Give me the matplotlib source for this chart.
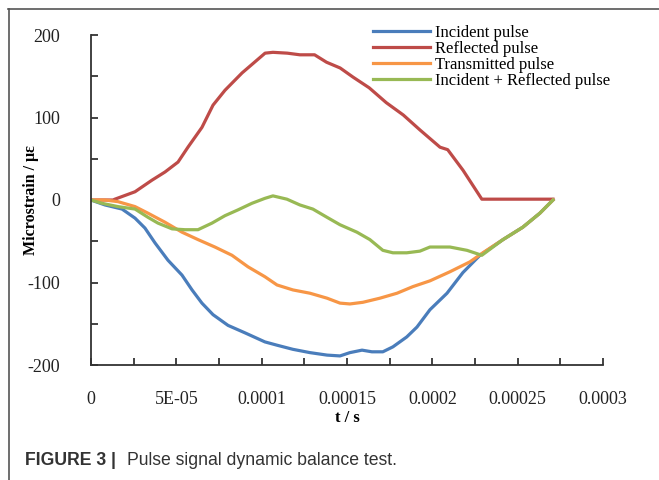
import numpy as np
import matplotlib
matplotlib.use('Agg')
import matplotlib.pyplot as plt
from matplotlib.lines import Line2D


# 시간축 (단위 1e-5 s)
t_inc = [0, 0.82, 1.82, 2.58, 3.16, 3.75, 4.51, 5.33, 5.92, 6.5, 7.15, 8.03, 9.02, 10.19,
         10.9, 11.83, 12.83, 13.83, 14.59, 15.17, 15.88, 16.46, 17.1, 17.69, 18.5, 19.1,
         19.86, 20.86, 21.79, 22.79, 24.14, 25.3, 26.3, 27.07]
incident = [0, -6, -11, -22, -34, -52, -73, -91, -109, -125, -139, -152, -161, -172,
            -176, -181, -185, -188, -189, -185, -182, -184, -184, -178, -166, -154,
            -133, -113, -88, -67, -48, -33, -16, 0]

t_ref = [0, 1.29, 1.4, 2.58, 3.57, 4.34, 5.1, 5.68, 6.5, 7.15, 7.85, 8.85, 10.2, 10.66,
         11.5, 12.24, 13.1, 13.8, 14.6, 15.35, 16.3, 17.3, 18.3, 19.27, 20.45, 20.9,
         21.8, 22.9, 27.07]
reflected = [0, 0, 1, 10, 24, 34, 46, 64, 88, 115, 133, 154, 178, 179,
             178, 176, 176, 167, 160, 149, 136, 118, 103, 85, 64, 61,
             36, 1, 1]

t_tra = [0, 0.82, 1.58, 2.58, 3.34, 4.34, 5.33, 6.27, 7.26, 8.26, 9.2, 10.19, 10.9, 11.83,
         12.83, 13.83, 14.59, 15.17, 15.93, 16.93, 17.93, 18.86, 19.86, 21.03, 22.2,
         22.96, 24.14, 25.3, 26.3, 27.07]
transmitted = [0, 0, -2, -8, -16, -27, -39, -48, -57, -67, -81, -93, -103, -109,
               -113, -119, -125, -126, -124, -119, -113, -105, -98, -87, -75,
               -64, -48, -33, -16, 0]

t_sum = [0, 0.64, 1.58, 2.58, 3.34, 3.92, 4.75, 5.5, 6.27, 7.09, 7.85, 8.61, 9.43, 10.19,
         10.66, 11.48, 12.24, 13.0, 13.83, 14.59, 15.58, 16.34, 17.1, 17.69, 18.5, 19.27,
         19.86, 21.03, 22.03, 22.9, 24.14, 25.3, 26.3, 27.07]
inc_plus_ref = [0, -4, -8, -11, -21, -28, -35, -36, -36, -28, -19, -12, -4, 2,
                5, 1, -6, -11, -21, -30, -39, -48, -61, -64, -64, -62,
                -57, -57, -61, -67, -48, -33, -16, 0]

x_ticks = [0, 2.5e-5, 5e-5, 7.5e-5, 1e-4, 1.25e-4, 1.5e-4, 1.75e-4, 2e-4, 2.25e-4,
           2.5e-4, 2.75e-4, 3e-4]
x_labels = ['0', '', '5E-05', '', '0.0001', '', '0.00015', '', '0.0002', '',
            '0.00025', '', '0.0003']
y_ticks = [-200, -150, -100, -50, 0, 50, 100, 150, 200]
y_labels = ['-200', '', '-100', '', '0', '', '100', '', '200']

serif = 'Liberation Serif'

fig = plt.figure(figsize=(6.59, 4.80), dpi=100)
ax = fig.add_axes([91/659, 1-365/480, 512/659, 330/480])

lw = 2.3
ax.plot(np.array(t_inc)*1e-5, incident, color='#4a7dbb', lw=lw, label='Incident pulse')
ax.plot(np.array(t_ref)*1e-5, reflected, color='#be4b48', lw=lw, label='Reflected pulse')
ax.plot(np.array(t_tra)*1e-5, transmitted, color='#f79646', lw=lw, label='Transmitted pulse')
ax.plot(np.array(t_sum)*1e-5, inc_plus_ref, color='#98b954', lw=lw, label='Incident + Reflected pulse')

ax.set_xlim(0, 3e-4)
ax.set_ylim(-200, 200)
ax.set_xticks(x_ticks)
ax.set_xticklabels(x_labels, fontfamily=serif, fontsize=13)
ax.set_yticks(y_ticks)
ax.set_yticklabels(y_labels, fontfamily=serif, fontsize=13)
ax.tick_params(axis='x', direction='in', length=5, width=1.2, pad=19, colors='#222')
ax.tick_params(axis='y', direction='in', length=5, width=1.2, pad=22, colors='#222')

for s in ['top', 'right']:
    ax.spines[s].set_visible(False)
for s in ['left', 'bottom']:
    ax.spines[s].set_linewidth(1.3)
    ax.spines[s].set_color('#333')

ax.set_xlabel('t / s', fontfamily=serif, fontweight='bold', fontsize=12, labelpad=1)
ax.set_ylabel('Microstrain / με', fontfamily=serif, fontweight='bold', fontsize=11.5)
ax.yaxis.set_label_coords((39-91)/512, 0.5)

leg = ax.legend(loc='upper left', bbox_to_anchor=(373/659, 1-25/480),
                bbox_transform=fig.transFigure, frameon=False,
                prop={'family': serif, 'size': 12}, handlelength=3.4,
                handletextpad=0.3, labelspacing=0.0, borderpad=0, borderaxespad=0)

# 외곽 테두리
fig.add_artist(Line2D([8.5/659, 8.5/659], [0, 1-9/480], transform=fig.transFigure,
                      color='#555', lw=1.2))
fig.add_artist(Line2D([8/659, 1], [1-9/480, 1-9/480], transform=fig.transFigure,
                      color='#555', lw=1.2))

# 캡션
fig.text(25/659, 1-465/480, 'FIGURE 3 |', fontfamily='Liberation Sans', fontweight='bold',
         fontsize=12.7, color='#333', va='baseline')
fig.text(127/659, 1-465/480, 'Pulse signal dynamic balance test.', fontfamily='Liberation Sans',
         fontsize=12.7, color='#333', va='baseline')

fig.savefig('out.png', dpi=100)
